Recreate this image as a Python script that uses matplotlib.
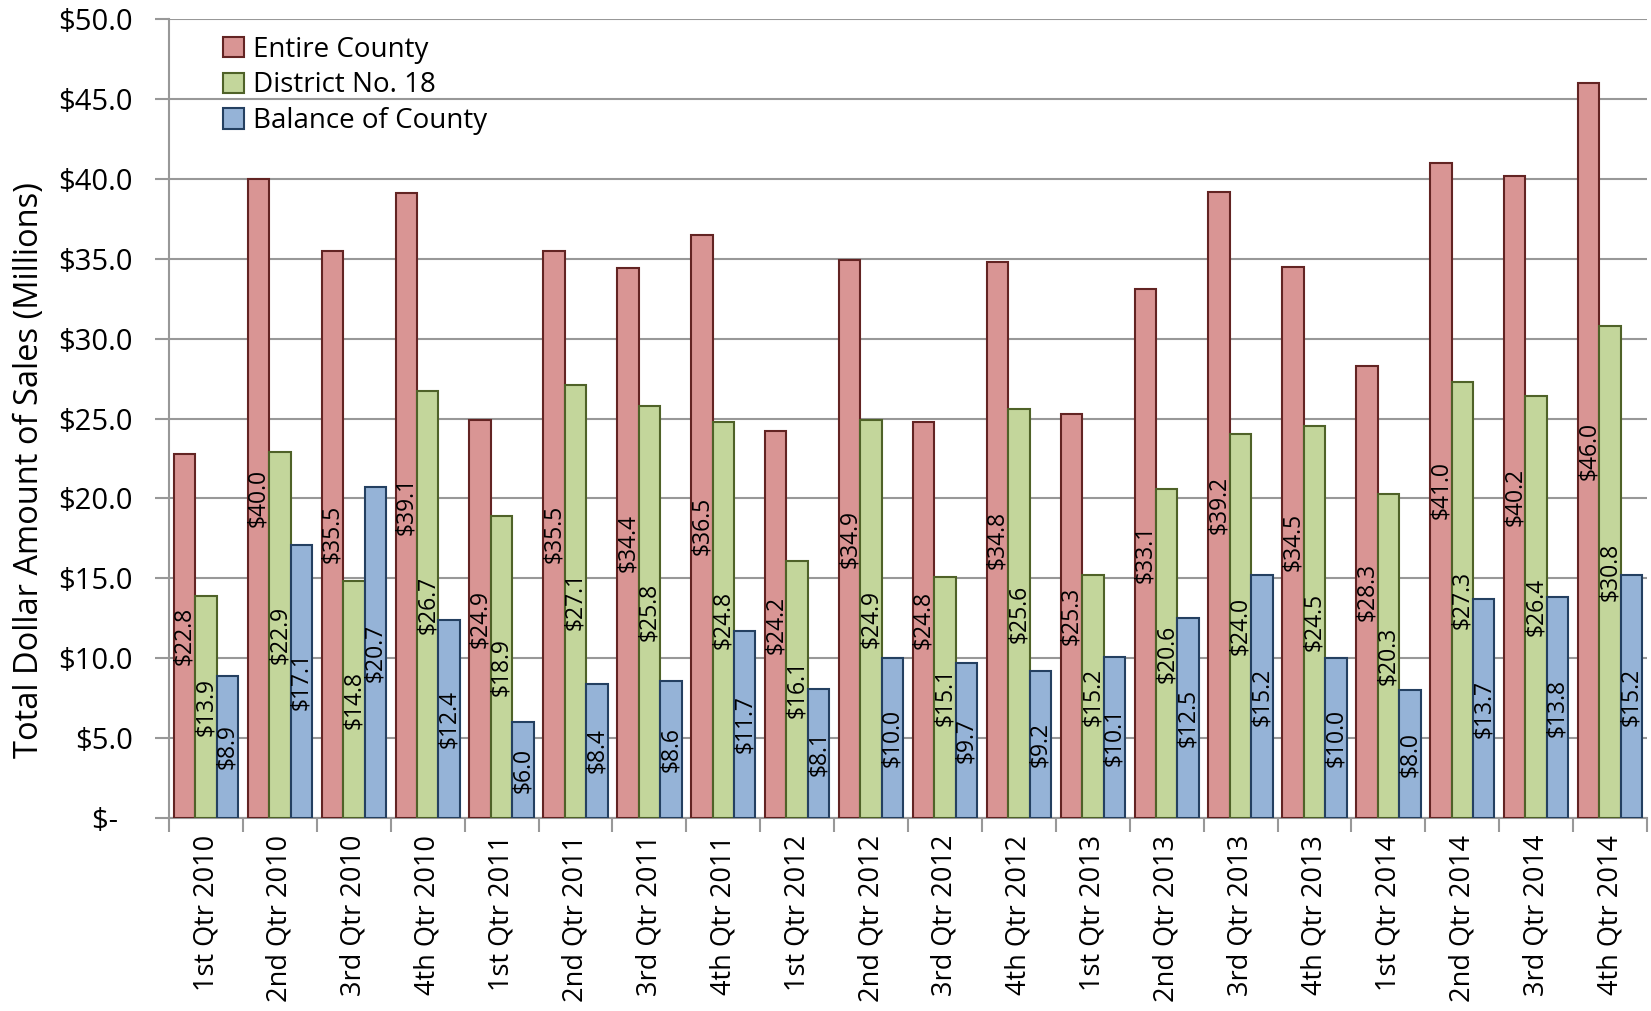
import matplotlib
matplotlib.use("Agg")
import matplotlib.pyplot as plt
import numpy as np
from matplotlib.patches import Patch

categories = ["1st Qtr 2010", "2nd Qtr 2010", "3rd Qtr 2010", "4th Qtr 2010",
              "1st Qtr 2011", "2nd Qtr 2011", "3rd Qtr 2011", "4th Qtr 2011",
              "1st Qtr 2012", "2nd Qtr 2012", "3rd Qtr 2012", "4th Qtr 2012",
              "1st Qtr 2013", "2nd Qtr 2013", "3rd Qtr 2013", "4th Qtr 2013",
              "1st Qtr 2014", "2nd Qtr 2014", "3rd Qtr 2014", "4th Qtr 2014"]
entire_county = [22.8, 40.0, 35.5, 39.1, 24.9, 35.5, 34.4, 36.5, 24.2, 34.9,
                 24.8, 34.8, 25.3, 33.1, 39.2, 34.5, 28.3, 41.0, 40.2, 46.0]
district_18 = [13.9, 22.9, 14.8, 26.7, 18.9, 27.1, 25.8, 24.8, 16.1, 24.9,
               15.1, 25.6, 15.2, 20.6, 24.0, 24.5, 20.3, 27.3, 26.4, 30.8]
balance = [8.9, 17.1, 20.7, 12.4, 6.0, 8.4, 8.6, 11.7, 8.1, 10.0,
           9.7, 9.2, 10.1, 12.5, 15.2, 10.0, 8.0, 13.7, 13.8, 15.2]
series_names = ["Entire County", "District No. 18", "Balance of County"]
y_ticks = [0, 5, 10, 15, 20, 25, 30, 35, 40, 45, 50]
y_tick_labels = ["$-  ", "$5.0", "$10.0", "$15.0", "$20.0", "$25.0", "$30.0",
                 "$35.0", "$40.0", "$45.0", "$50.0"]

plt.rcParams['font.family'] = ['Open Sans', 'DejaVu Sans']

fills = ["#D99594", "#C3D69B", "#95B3D7"]
edges = ["#632423", "#4F6228", "#244061"]
grid_c = "#989898"

fig = plt.figure(figsize=(16.51, 10.11), dpi=100)
ax = fig.add_axes([0.1024, 0.1909, 0.8952, 0.7903])

x = np.arange(len(categories))
w = 0.29
data = [entire_county, district_18, balance]
for i, (vals, fc, ec) in enumerate(zip(data, fills, edges)):
    pos = x + (i - 1) * w
    ax.bar(pos, vals, width=w, color=fc, edgecolor=ec, linewidth=1.5, zorder=3)
    for px, v in zip(pos, vals):
        ax.text(px, v / 2, f"${v:.1f}", rotation=90, ha="center", va="center",
                fontsize=16.5, family=['Open Sans', 'DejaVu Sans'],
                color="black", zorder=4)

ax.set_xlim(-0.5, len(categories) - 0.5)
ax.set_ylim(0, 50)
ax.set_yticks(y_ticks)
ax.set_yticklabels(y_tick_labels, fontsize=21)
ax.tick_params(axis='y', length=10, width=1.5, color=grid_c, pad=16)
ax.set_xticks(x)
ax.set_xticklabels(categories, rotation=90, fontsize=19.5)
ax.tick_params(axis='x', which='major', length=0, pad=12)
ax.set_xticks(np.arange(-0.5, len(categories), 1), minor=True)
ax.tick_params(axis='x', which='minor', length=10, width=1.5, color=grid_c)

ax.yaxis.grid(True, color=grid_c, linewidth=1.5, zorder=0)
ax.set_axisbelow(True)
for s in ["top", "right"]:
    ax.spines[s].set_visible(False)
for s in ["left", "bottom"]:
    ax.spines[s].set_color(grid_c)
    ax.spines[s].set_linewidth(1.5)

ax.set_ylabel("Total Dollar Amount of Sales (Millions)", fontsize=23.5)
ax.yaxis.set_label_coords(-0.083, 0.4355)

handles = [Patch(facecolor=fc, edgecolor=ec, linewidth=1.5, label=n)
           for fc, ec, n in zip(fills, edges, series_names)]
leg = ax.legend(handles=handles, loc="upper left", bbox_to_anchor=(0.025, 1.0),
                frameon=False, fontsize=20, handlelength=0.75, handleheight=0.75,
                handletextpad=0.35, labelspacing=0.28, borderaxespad=0.2)

fig.savefig("out.png", dpi=100)
